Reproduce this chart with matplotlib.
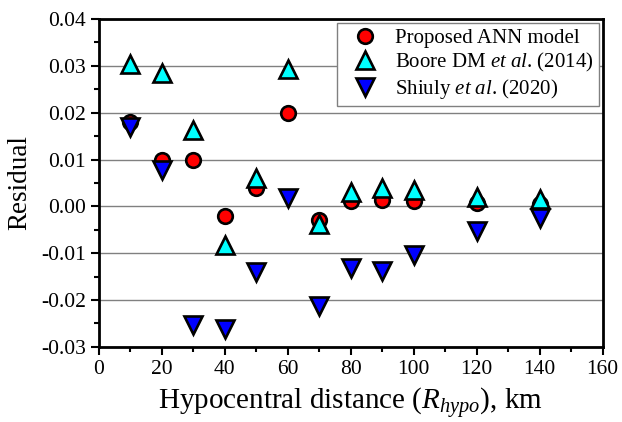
import matplotlib
matplotlib.use("Agg")
import matplotlib.pyplot as plt
from matplotlib.ticker import MultipleLocator, FormatStrFormatter

plt.rcParams["font.family"] = "Liberation Serif"
plt.rcParams["mathtext.fontset"] = "custom"
plt.rcParams["mathtext.rm"] = "Liberation Serif"
plt.rcParams["mathtext.it"] = "Liberation Serif:italic"

# hypocentral distance (km)
distance = [10, 20, 30, 40, 50, 60, 70, 80, 90, 100, 120, 140]

# residuals
ann_model = [0.018, 0.010, 0.010, -0.002, 0.004, 0.020, -0.003,
             0.0012, 0.0014, 0.0012, 0.0008, 0.0004]
boore_2014 = [0.0303, 0.0284, 0.0163, -0.0082, 0.0060, 0.0293, -0.0038,
              0.0031, 0.0039, 0.0035, 0.0021, 0.0015]
shiuly_2020 = [0.017, 0.0078, -0.0253, -0.0262, -0.0141, 0.0017, -0.0213,
               -0.0132, -0.0139, -0.0104, -0.0052, -0.0025]

fig = plt.figure(figsize=(6.22, 4.22), dpi=100)
ax = fig.add_axes([0.159, 0.178, 0.81, 0.777])

ax.grid(axis="y", color="#808080", linewidth=1.0, zorder=0)
ax.set_axisbelow(True)

ax.plot(distance, ann_model, "o", ms=10.5, mfc="red", mec="black", mew=1.9,
        label="Proposed ANN model", zorder=3)
ax.plot(distance, boore_2014, "^", ms=13.5, mfc="cyan", mec="black", mew=1.9,
        label=r"Boore DM $\it{et\ al}$. (2014)", zorder=4)
ax.plot(distance, shiuly_2020, "v", ms=13.5, mfc="blue", mec="black", mew=1.9,
        label=r"Shiuly $\it{et\ al}$. (2020)", zorder=5)

ax.set_xlim(0, 160)
ax.set_ylim(-0.03, 0.04)
ax.xaxis.set_major_locator(MultipleLocator(20))
ax.xaxis.set_minor_locator(MultipleLocator(10))
ax.yaxis.set_major_locator(MultipleLocator(0.01))
ax.yaxis.set_minor_locator(MultipleLocator(0.005))
ax.yaxis.set_major_formatter(FormatStrFormatter("%.2f"))

for sp in ax.spines.values():
    sp.set_linewidth(2)
ax.tick_params(which="major", direction="out", length=6, width=1.5,
               labelsize=15.5, top=False, right=False)
ax.tick_params(which="minor", direction="out", length=3.5, width=1.5,
               top=False, right=False)

ax.set_xlabel(r"Hypocentral distance ($R_{hypo}$), km", fontsize=21, labelpad=5)
ax.set_ylabel("Residual", fontsize=19.5, labelpad=6)

leg = ax.legend(loc="upper right", fontsize=15, fancybox=False,
                framealpha=1, edgecolor="#808080", borderaxespad=0.2,
                handlelength=2.1, handletextpad=0.4, labelspacing=0.15,
                borderpad=0.25)
leg.get_frame().set_linewidth(1.0)

fig.savefig("out.png", dpi=100)
